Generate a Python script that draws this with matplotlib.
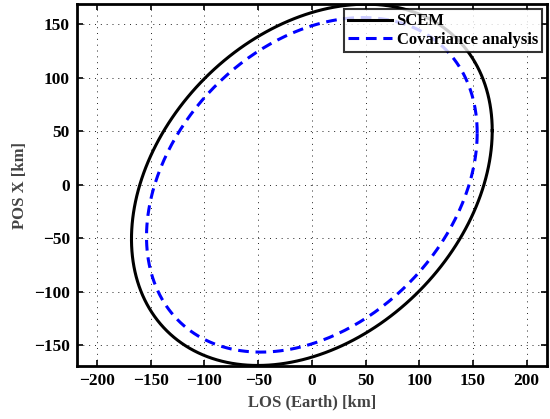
import numpy as np
import matplotlib
matplotlib.use("Agg")
import matplotlib.pyplot as plt

# 1-sigma-like ellipse parameters: [sigma_x, sigma_y, rho]
scem = [168.0, 169.0, 0.30]
cov_analysis = [154.0, 156.5, 0.31]
labels = ["SCEM", "Covariance analysis"]
xticks = [-200, -150, -100, -50, 0, 50, 100, 150, 200]
yticks = [-150, -100, -50, 0, 50, 100, 150]

plt.rcParams['font.family'] = ['Liberation Serif', 'DejaVu Serif']
plt.rcParams['font.weight'] = 'bold'


def ellipse_pts(sx, sy, rho, n=400):
    """Boundary of the ellipse x'C^-1 x = 1 with C built from sx, sy, rho."""
    cov = np.array([[sx**2, rho * sx * sy], [rho * sx * sy, sy**2]])
    L = np.linalg.cholesky(cov)
    t = np.linspace(0, 2 * np.pi, n)
    pts = L @ np.vstack([np.cos(t), np.sin(t)])
    return pts[0], pts[1]


fig = plt.figure(figsize=(5.5, 4.19), dpi=100)
ax = fig.add_axes([0.1395, 0.1265, 0.855, 0.8635])

x1, y1 = ellipse_pts(*scem)
x2, y2 = ellipse_pts(*cov_analysis)
ax.plot(x1, y1, color='black', lw=2.2, label=labels[0])
ax.plot(x2, y2, color='#0000ff', lw=2.2, ls=(0, (3.5, 2.2)), label=labels[1])

ax.set_xlim(-219, 219)
ax.set_ylim(-169.5, 169)
ax.set_xticks(xticks)
ax.set_yticks(yticks)
ax.set_xticklabels([str(v).replace('-', '\u2212') for v in xticks])
ax.set_yticklabels([str(v).replace('-', '\u2212') for v in yticks])
ax.tick_params(direction='in', top=True, right=True, length=4, width=1.2,
               labelsize=12.5, pad=5)
for lab in ax.get_xticklabels() + ax.get_yticklabels():
    lab.set_fontweight('bold')
ax.grid(True, ls=(0, (1, 5)), color='#222222', lw=0.7)
for s in ax.spines.values():
    s.set_linewidth(2.0)

ax.set_xlabel("LOS (Earth) [km]", fontsize=12, fontweight='bold', color='#444444', labelpad=4)
ax.set_ylabel("POS X [km]", fontsize=12, fontweight='bold', color='#444444', labelpad=4)

leg = ax.legend(loc='upper right', frameon=True, fancybox=False,
                edgecolor='black', borderpad=0.25, handlelength=2.6,
                handletextpad=0.3, labelspacing=0.15, borderaxespad=0.3,
                prop={'weight': 'bold', 'size': 12})
leg.get_frame().set_linewidth(1.5)

fig.savefig("out.png", dpi=100)
